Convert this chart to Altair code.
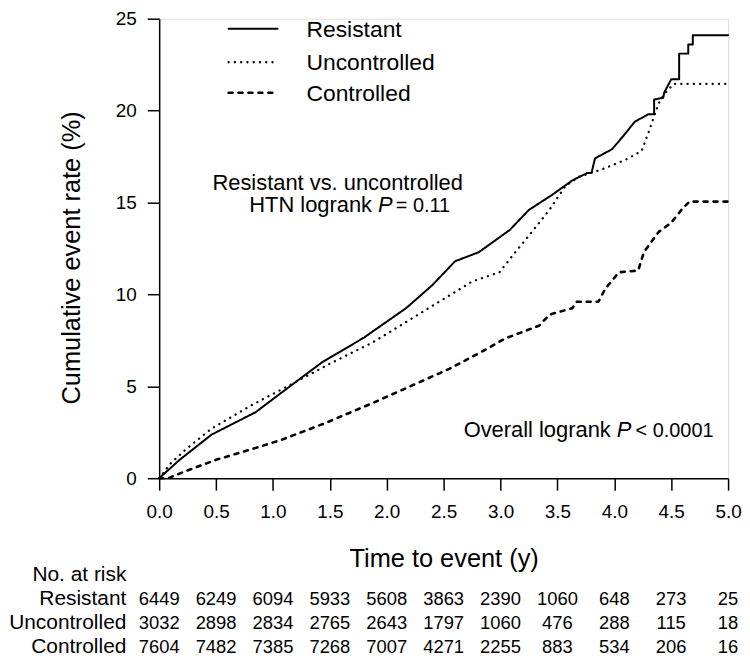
import altair as alt
import pandas as pd

FONT = "Liberation Sans, Arial, Helvetica, sans-serif"

groups = ["Resistant", "Uncontrolled", "Controlled"]

# Kaplan-Meier style cumulative event curves
res_t = [0, 0.18, 0.46, 0.85, 1.02, 1.43, 1.80, 1.88, 2.17, 2.40, 2.60, 2.81, 3.08, 3.25, 3.45, 3.63,
         3.76, 3.80, 3.83, 3.98, 4.09, 4.18, 4.30, 4.35, 4.35, 4.43, 4.44, 4.50, 4.57, 4.57, 4.65,
         4.65, 4.69, 4.69, 5.0]
res_v = [0, 1.0, 2.37, 3.6, 4.4, 6.3, 7.65, 8.0, 9.25, 10.5, 11.8, 12.3, 13.5, 14.6, 15.4, 16.2,
         16.6, 16.6, 17.4, 17.9, 18.7, 19.4, 19.8, 19.8, 20.6, 20.7, 21.0, 21.7, 21.7, 23.1, 23.1,
         23.6, 23.6, 24.1, 24.1]

unc_t = [0, 0.10, 0.23, 0.46, 0.82, 1.22, 1.49, 1.88, 2.17, 2.46, 2.75, 2.99, 3.13, 3.25, 3.43,
         3.57, 3.69, 3.89, 4.09, 4.24, 4.30, 4.39, 4.44, 4.52, 5.0]
unc_v = [0, 0.8, 1.55, 2.7, 4.0, 5.3, 6.2, 7.4, 8.5, 9.6, 10.7, 11.2, 12.3, 13.2, 14.6,
         15.9, 16.4, 16.8, 17.3, 17.8, 18.8, 20.4, 20.9, 21.45, 21.45]

ctl_t = [0, 0.08, 0.23, 0.50, 0.85, 1.08, 1.46, 1.88, 2.17, 2.55, 2.84, 3.04, 3.34, 3.43, 3.63,
         3.67, 3.86, 3.92, 4.04, 4.21, 4.26, 4.39, 4.50, 4.59, 4.66, 5.0]
ctl_v = [0, 0, 0.38, 1.0, 1.65, 2.1, 3.0, 4.1, 4.9, 5.95, 6.9, 7.6, 8.3, 8.9, 9.25,
         9.6, 9.6, 10.3, 11.2, 11.3, 12.3, 13.4, 13.9, 14.6, 15.05, 15.05]

# Number at risk table
risk_times = [0.0, 0.5, 1.0, 1.5, 2.0, 2.5, 3.0, 3.5, 4.0, 4.5, 5.0]
risk_resistant = [6449, 6249, 6094, 5933, 5608, 3863, 2390, 1060, 648, 273, 25]
risk_uncontrolled = [3032, 2898, 2834, 2765, 2643, 1797, 1060, 476, 288, 115, 18]
risk_controlled = [7604, 7482, 7385, 7268, 7007, 4271, 2255, 883, 534, 206, 16]
risk_rows = ["No. at risk", "Resistant", "Uncontrolled", "Controlled"]

x_ticks = [0.0, 0.5, 1.0, 1.5, 2.0, 2.5, 3.0, 3.5, 4.0, 4.5, 5.0]
y_ticks = [0, 5, 10, 15, 20, 25]

# Legend (inside plot, in data coordinates)
legend_x1 = [0.61, 0.61, 0.61]
legend_x2 = [1.04, 1.04, 1.04]
legend_y = [24.46, 22.63, 20.97]
legend_label_x = [1.294, 1.294, 1.294]
legend_label_y = [24.03, 22.20, 20.54]

# ---------------- tables ----------------
rows = []
for g, ts, vs in [("Resistant", res_t, res_v), ("Uncontrolled", unc_t, unc_v), ("Controlled", ctl_t, ctl_v)]:
    for i, (t, v) in enumerate(zip(ts, vs)):
        rows.append({"group": g, "t": t, "v": v, "idx": i})
curves = pd.DataFrame(rows)

legend_df = pd.DataFrame({"group": groups, "x1": legend_x1, "x2": legend_x2, "y": legend_y,
                          "lx": legend_label_x, "ly": legend_label_y})

risk_long = []
for r, vals in [(1, risk_resistant), (2, risk_uncontrolled), (3, risk_controlled)]:
    for t, n in zip(risk_times, vals):
        risk_long.append({"row": r, "t": t, "n": str(n)})
risk_df = pd.DataFrame(risk_long)
row_label_df = pd.DataFrame({"row": [0, 1, 2, 3], "label": risk_rows, "t": [0, 0, 0, 0]})

xscale = alt.Scale(domain=[0, 5], nice=False, zero=False)
yscale = alt.Scale(domain=[0, 25], nice=False)
dash_scale = alt.Scale(domain=groups, range=[[1, 0], [0.1, 6.2], [4, 6]])
width_scale = alt.Scale(domain=groups, range=[2.0, 2.6, 2.8])

xaxis = alt.Axis(values=x_ticks, format=".1f", title="Time to event (y)", grid=False,
                 titleFontSize=25.5, titleFont=FONT, titleFontWeight="normal", titleColor="black",
                 titleY=89, titleBaseline="alphabetic",
                 labelFontSize=19, labelFont=FONT, labelColor="black", labelPadding=13,
                 labelFlush=False, labelOverlap=False,
                 tickSize=12, tickColor="black", tickWidth=1.5,
                 domainColor="black", domainWidth=1.5)
yaxis = alt.Axis(values=y_ticks, format="d", title="Cumulative event rate (%)", grid=False,
                 titleFontSize=25.5, titleFont=FONT, titleFontWeight="normal", titleColor="black",
                 titleX=-80, titleY=240, titleBaseline="alphabetic", titleAngle=270,
                 labelFontSize=19, labelFont=FONT, labelColor="black", labelPadding=11,
                 labelFlush=False, labelOverlap=False,
                 tickSize=12, tickColor="black", tickWidth=1.5,
                 domainColor="black", domainWidth=1.5)

lines = alt.Chart(curves).mark_line(color="black", strokeCap="round", strokeJoin="round").encode(
    x=alt.X("t:Q", scale=xscale, axis=xaxis),
    y=alt.Y("v:Q", scale=yscale, axis=yaxis),
    strokeDash=alt.StrokeDash("group:N", scale=dash_scale, legend=None),
    strokeWidth=alt.StrokeWidth("group:N", scale=width_scale, legend=None),
    detail="group:N",
    order=alt.Order("idx:Q"),
)

leg_rules = alt.Chart(legend_df).mark_rule(color="black", strokeCap="round").encode(
    x=alt.X("x1:Q", scale=xscale),
    x2="x2:Q",
    y=alt.Y("y:Q", scale=yscale),
    strokeDash=alt.StrokeDash("group:N", scale=dash_scale, legend=None),
    strokeWidth=alt.StrokeWidth("group:N", scale=width_scale, legend=None),
)

leg_text = alt.Chart(legend_df).mark_text(align="left", baseline="alphabetic", fontSize=23,
                                           font=FONT, color="black").encode(
    x=alt.X("lx:Q", scale=xscale), y=alt.Y("ly:Q", scale=yscale), text="group:N")

# Annotations
ann_center = pd.DataFrame({"txt": ["Resistant vs. uncontrolled"], "t": [1.569], "v": [15.70]})
ann_right = pd.DataFrame({"txt": ["HTN logrank", "Overall logrank"], "t": [1.871, 3.969], "v": [14.46, 2.26]})
ann_italic = pd.DataFrame({"txt": ["P", "P"], "t": [1.923, 4.021], "v": [14.46, 2.26]})
ann_left = pd.DataFrame({"txt": ["= 0.11", "< 0.0001"], "t": [2.080, 4.187], "v": [14.46, 2.26]})

def txt_layer(df, align, size, style="normal"):
    return alt.Chart(df).mark_text(align=align, baseline="alphabetic", fontSize=size, font=FONT,
                                   fontStyle=style, color="black").encode(
        x=alt.X("t:Q", scale=xscale), y=alt.Y("v:Q", scale=yscale), text="txt:N")

annots = (txt_layer(ann_center, "center", 22) + txt_layer(ann_right, "right", 22)
          + txt_layer(ann_italic, "left", 22, "italic") + txt_layer(ann_left, "left", 20))

main = alt.layer(lines, leg_rules, leg_text, annots)

# Risk table under the axis (own vertical scale)
row_scale = alt.Scale(domain=[0, 3], range=[565, 638], nice=False, zero=False)
risk_nums = alt.Chart(risk_df).mark_text(align="center", baseline="alphabetic", fontSize=18.5,
                                          font=FONT, color="black").encode(
    x=alt.X("t:Q", scale=xscale),
    y=alt.Y("row:Q", scale=row_scale, axis=None),
    text="n:N",
)
risk_labels = alt.Chart(row_label_df).mark_text(align="right", baseline="alphabetic", fontSize=21,
                                                 font=FONT, color="black", dx=-33).encode(
    x=alt.X("t:Q", scale=xscale),
    y=alt.Y("row:Q", scale=row_scale, axis=None),
    text="label:N",
)
risk = alt.layer(risk_nums, risk_labels)

chart = alt.layer(main, risk).resolve_scale(y="independent").properties(
    width=572, height=462,
    autosize=alt.AutoSizeParams(type="none"),
    padding={"left": 152, "top": 9, "right": 14, "bottom": 177},
).configure_view(stroke=None).configure(background="white")

chart.save("out.html", embed_options={"renderer": "svg", "actions": False})
